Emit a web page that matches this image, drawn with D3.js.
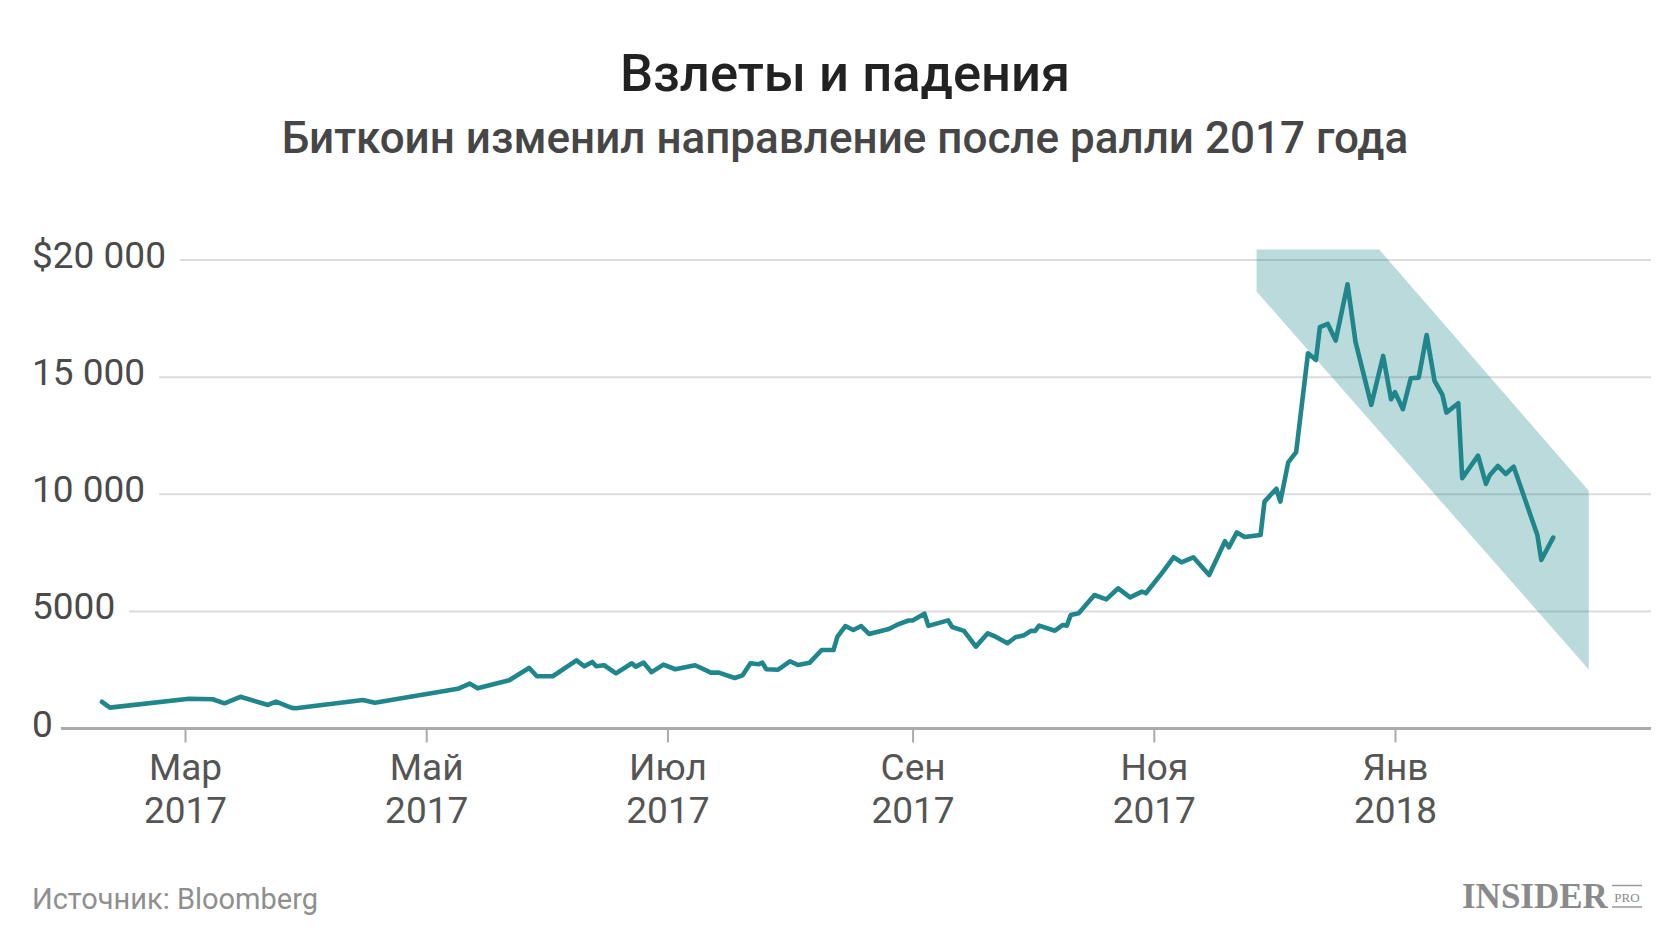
<!DOCTYPE html>
<html><head><meta charset="utf-8">
<script src="https://cdn.jsdelivr.net/npm/d3@7"></script>
<style>
body{margin:0;background:#fff}
svg{display:block}
</style>
</head><body>
<svg id="chart" width="1668" height="946" font-family="Roboto, 'Noto Sans', sans-serif"></svg>
<script>
// ---- data ----
const dates = ["2017-02-08","2017-02-10","2017-03-02","2017-03-08","2017-03-11","2017-03-15","2017-03-22","2017-03-24","2017-03-28","2017-03-29",
"2017-04-15","2017-04-18","2017-05-09","2017-05-12","2017-05-14","2017-05-22","2017-05-27","2017-05-29","2017-06-02","2017-06-08",
"2017-06-10","2017-06-12","2017-06-13","2017-06-15","2017-06-18","2017-06-22","2017-06-23","2017-06-25","2017-06-27","2017-06-30",
"2017-07-03","2017-07-08","2017-07-12","2017-07-14","2017-07-18","2017-07-20","2017-07-22","2017-07-24","2017-07-25","2017-07-26",
"2017-07-29","2017-08-01","2017-08-03","2017-08-06","2017-08-09","2017-08-12","2017-08-13","2017-08-15","2017-08-17","2017-08-19",
"2017-08-21","2017-08-26","2017-08-28","2017-08-31","2017-09-01","2017-09-04","2017-09-05","2017-09-10","2017-09-11","2017-09-14",
"2017-09-17","2017-09-20","2017-09-22","2017-09-25","2017-09-27","2017-09-29","2017-10-01","2017-10-02","2017-10-03","2017-10-07",
"2017-10-09","2017-10-10","2017-10-11","2017-10-13","2017-10-17","2017-10-20","2017-10-23","2017-10-26","2017-10-29","2017-10-30",
"2017-11-03","2017-11-06","2017-11-08","2017-11-11","2017-11-15","2017-11-19","2017-11-20","2017-11-22","2017-11-24","2017-11-28",
"2017-11-29","2017-12-02","2017-12-03","2017-12-05","2017-12-07","2017-12-10","2017-12-12","2017-12-13","2017-12-15","2017-12-17",
"2017-12-20","2017-12-22","2017-12-26","2017-12-29","2017-12-31","2018-01-01","2018-01-03","2018-01-05","2018-01-07","2018-01-09",
"2018-01-11","2018-01-13","2018-01-14","2018-01-17","2018-01-18","2018-01-22","2018-01-24","2018-01-25","2018-01-27","2018-01-29",
"2018-01-31","2018-02-06","2018-02-07","2018-02-10"];
const prices = [1140,890,1270,1250,1075,1355,1005,1145,880,865,
1215,1100,1695,1915,1715,2060,2585,2230,2230,2910,
2655,2840,2655,2700,2355,2785,2640,2810,2405,2725,
2530,2700,2385,2385,2155,2270,2785,2740,2810,2530,
2510,2870,2710,2810,3350,3350,3920,4375,4205,4375,
4035,4250,4420,4610,4610,4900,4380,4615,4335,4170,
3495,4065,3920,3640,3895,3965,4175,4165,4390,4175,
4420,4390,4845,4920,5700,5515,5985,5600,5840,5775,
6625,7310,7095,7310,6555,7995,7735,8370,8175,8260,
9685,10235,9685,11360,11795,16020,15735,17130,17270,16560,
18965,16515,13815,15905,14055,14355,13630,14955,14980,16800,
14840,14240,13485,13885,10685,11650,10440,10825,11210,10865,
11180,8260,7195,8150];

const yTicks = [0, 5000, 10000, 15000, 20000];
const yTickLabels = ["0", "5000", "10 000", "15 000", "$20 000"];
const xTicks = ["2017-03-01","2017-05-01","2017-07-01","2017-09-01","2017-11-01","2018-01-01"];
const xTickMonths = ["Мар","Май","Июл","Сен","Ноя","Янв"];
const xTickYears = ["2017","2017","2017","2017","2017","2018"];

// falling channel (shaded band)
const bandDates = ["2017-11-27","2017-12-28","2018-02-19","2018-02-19","2017-11-27"];
const bandValues = [20450, 20450, 10150, 2520, 18650];

const title = "Взлеты и падения";
const subtitle = "Биткоин изменил направление после ралли 2017 года";
const source = "Источник: Bloomberg";

// ---- chart ----
const parse = d3.timeParse("%Y-%m-%d");
const svg = d3.select("#chart");
const plotLeft = 61, plotRight = 1651;

const x = d3.scaleTime()
  .domain([parse("2017-03-01"), parse("2018-01-01")])
  .range([185, 1395]);
const y = d3.scaleLinear().domain([0, 20000]).range([728.5, 260]);

// titles
svg.append("text").attr("x", 845).attr("y", 91).attr("text-anchor", "middle")
  .attr("font-size", 52.5).attr("font-weight", 500).attr("fill", "#222").text(title);
svg.append("text").attr("x", 845).attr("y", 153).attr("text-anchor", "middle")
  .attr("font-size", 44).attr("font-weight", 500).attr("fill", "#464646").text(subtitle);

// y labels + gridlines
const yG = svg.append("g");
yTicks.forEach((v, i) => {
  const t = yG.append("text").attr("x", 32).attr("y", y(v) + 8)
    .attr("font-size", 37).attr("fill", "#4a4a4a").text(yTickLabels[i]);
  const w = t.node().getComputedTextLength();
  if (v !== 0) {
    yG.insert("line", "text").attr("x1", 32 + w + 14).attr("x2", plotRight)
      .attr("y1", y(v)).attr("y2", y(v))
      .attr("stroke", "#dcdcdc").attr("stroke-width", 2);
  }
});

// band
const band = bandDates.map((d, i) => [x(parse(d)), y(bandValues[i])]);
svg.append("path").attr("d", d3.line()(band) + "Z")
  .attr("fill", "#1f868b").attr("fill-opacity", 0.3);

// x axis
const xAxis = d3.axisBottom(x)
  .tickValues(xTicks.map(parse))
  .tickSize(14).tickSizeOuter(0).tickFormat("");
const ax = svg.append("g").attr("transform", `translate(0,${y(0)})`).call(xAxis);
ax.attr("font-family", null).attr("font-size", null);
ax.select(".domain").remove();
ax.selectAll(".tick line").attr("stroke", "#ababab").attr("stroke-width", 2);
ax.selectAll(".tick text").remove();
ax.selectAll(".tick").each(function(d, i) {
  const t = d3.select(this).append("text").attr("text-anchor", "middle")
    .attr("font-size", 37).attr("fill", "#555");
  t.append("tspan").attr("x", 0).attr("y", 51.5).text(xTickMonths[i]);
  t.append("tspan").attr("x", 0).attr("y", 94.5).text(xTickYears[i]);
});
svg.append("line").attr("x1", plotLeft).attr("x2", plotRight)
  .attr("y1", y(0)).attr("y2", y(0))
  .attr("stroke", "#ababab").attr("stroke-width", 3);

// price line
const pts = dates.map((d, i) => ({date: parse(d), v: prices[i]}));
svg.append("path").datum(pts)
  .attr("d", d3.line().x(d => x(d.date)).y(d => y(d.v)))
  .attr("fill", "none").attr("stroke", "#1f868b").attr("stroke-width", 4.6)
  .attr("stroke-linejoin", "round").attr("stroke-linecap", "round");

// footer
svg.append("text").attr("x", 32).attr("y", 909).attr("font-size", 29)
  .attr("fill", "#8f8f8f").text(source);
const logo = svg.append("g");
logo.append("text").attr("x", 1462).attr("y", 908)
  .style("font-family", "'Liberation Serif','DejaVu Serif',serif")
  .attr("font-weight", 700).attr("font-size", 35).attr("fill", "#8a8a8a").text("INSIDER");
logo.append("line").attr("x1", 1612).attr("x2", 1642).attr("y1", 885.5).attr("y2", 885.5)
  .attr("stroke", "#999").attr("stroke-width", 1.5);
logo.append("line").attr("x1", 1612).attr("x2", 1642).attr("y1", 907).attr("y2", 907)
  .attr("stroke", "#999").attr("stroke-width", 1.5);
logo.append("text").attr("x", 1627).attr("y", 901.5).attr("text-anchor", "middle")
  .style("font-family", "'Liberation Serif','DejaVu Serif',serif")
  .attr("font-size", 13).attr("fill", "#8a8a8a").text("PRO");
</script>
</body></html>
